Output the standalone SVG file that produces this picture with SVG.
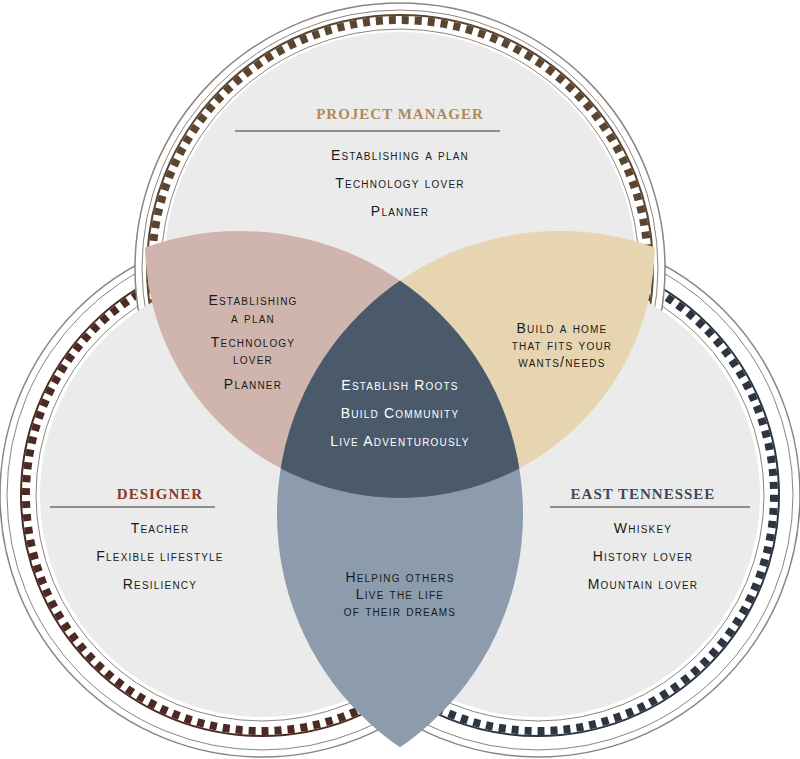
<svg xmlns="http://www.w3.org/2000/svg" width="800" height="759" viewBox="0 0 800 759">
<style>
.o{fill:#fff;stroke:#8a8580;stroke-width:1.5}
.b{fill:none;stroke-width:8;stroke-dasharray:7 6}
.s{fill:none;stroke-width:2}
.l{fill:none;stroke:#8a8580;stroke-width:1}
.t{font-family:"Liberation Sans",Arial,sans-serif;font-size:14px;font-variant:small-caps;letter-spacing:1.2px;text-anchor:middle;fill:#1a1a1a}
.w{fill:#fff}
.h{font-family:"Liberation Serif","Times New Roman",serif;font-size:15px;font-weight:bold;letter-spacing:1px;text-anchor:middle}
</style>
<defs>
<clipPath id="cL"><circle cx="240" cy="514" r="283"/></clipPath>
<clipPath id="cR"><circle cx="560" cy="514" r="283"/></clipPath>
</defs>
<g id="rings">
<g id="ring-left"><circle class="o" cx="262" cy="495" r="262"/><circle class="l" cx="262" cy="495" r="255"/><circle class="s" stroke="#4a2a22" cx="262" cy="495" r="241"/><circle class="b" stroke="#4a2a22" cx="262" cy="495" r="236"/><circle class="l" cx="262" cy="495" r="226"/></g>
<g id="ring-right"><circle class="o" cx="538" cy="495" r="262"/><circle class="l" cx="538" cy="495" r="255"/><circle class="s" stroke="#2c3540" cx="538" cy="495" r="241"/><circle class="b" stroke="#2c3540" cx="538" cy="495" r="236"/><circle class="l" cx="538" cy="495" r="226"/></g>
<g id="ring-top"><circle class="o" cx="400" cy="268" r="265"/><circle class="l" cx="400" cy="268" r="258"/><circle class="s" stroke="#5a4630" cx="400" cy="268" r="253"/><circle class="b" stroke="#5a4630" cx="400" cy="268" r="248"/><circle class="l" cx="400" cy="268" r="239"/></g>
</g>
<g id="fills" fill="#ebebeb">
<circle cx="262" cy="495" r="222"/><circle cx="538" cy="495" r="222"/><circle cx="400" cy="268" r="236"/>
</g>
<g id="lenses">
<g clip-path="url(#cL)"><circle cx="400" cy="243" r="255" fill="#cfb5ad"/></g>
<g clip-path="url(#cR)"><circle cx="400" cy="243" r="255" fill="#e6d5b0"/></g>
<g clip-path="url(#cR)"><circle cx="240" cy="514" r="283" fill="#8c9cad"/></g>
<g clip-path="url(#cL)"><g clip-path="url(#cR)"><circle cx="400" cy="243" r="255" fill="#4a5a6a"/></g></g>
</g>
<g id="node-pm">
<text class="h" fill="#b08a55" x="400" y="119">PROJECT MANAGER</text>
<line x1="235" y1="131" x2="500" y2="131" stroke="#333"/>
<text class="t" x="400" y="160">Establishing a plan</text>
<text class="t" x="400" y="188">Technology lover</text>
<text class="t" x="400" y="216">Planner</text>
</g>
<g id="node-designer">
<text class="h" fill="#8a3a2a" x="160" y="499">DESIGNER</text>
<line x1="50" y1="507" x2="215" y2="507" stroke="#333"/>
<text class="t" x="160" y="533">Teacher</text>
<text class="t" x="160" y="561">Flexible lifestyle</text>
<text class="t" x="160" y="589">Resiliency</text>
</g>
<g id="node-et">
<text class="h" fill="#3a4a5a" x="643" y="499">EAST TENNESSEE</text>
<line x1="550" y1="507" x2="750" y2="507" stroke="#333"/>
<text class="t" x="643" y="533">Whiskey</text>
<text class="t" x="643" y="561">History lover</text>
<text class="t" x="643" y="589">Mountain lover</text>
</g>
<g id="node-pm-designer">
<text class="t" x="253" y="305">Establishing</text><text class="t" x="253" y="323">a plan</text>
<text class="t" x="253" y="347">Technology</text><text class="t" x="253" y="364">lover</text>
<text class="t" x="253" y="389">Planner</text>
</g>
<g id="node-pm-et">
<text class="t" x="562" y="333">Build a home</text><text class="t" x="562" y="350">that fits your</text><text class="t" x="562" y="367">wants/needs</text>
</g>
<g id="node-center">
<text class="t w" x="400" y="390">Establish Roots</text>
<text class="t w" x="400" y="418">Build Community</text>
<text class="t w" x="400" y="446">Live Adventurously</text>
</g>
<g id="node-designer-et">
<text class="t" x="400" y="582">Helping others</text><text class="t" x="400" y="599">Live the life</text><text class="t" x="400" y="616">of their dreams</text>
</g>
<g id="connectors"/>
</svg>
